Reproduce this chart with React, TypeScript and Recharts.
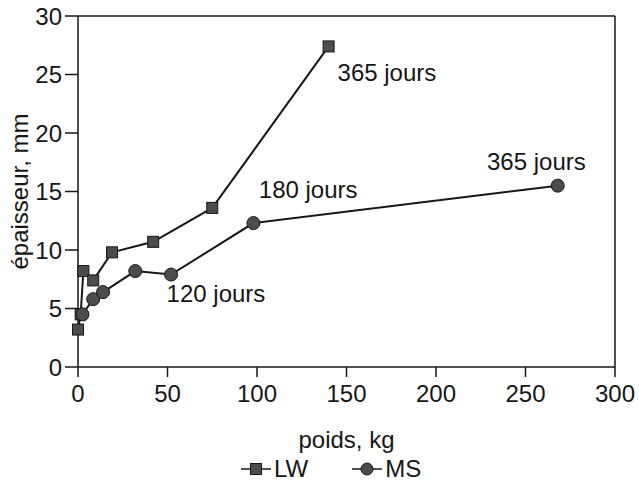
import {
  ScatterChart,
  Scatter,
  XAxis,
  YAxis,
  ZAxis,
  ReferenceLine,
  ReferenceDot
} from "recharts";

// LW series (carrés)
const lwPoids = [0, 1.5, 3, 8.5, 19, 42, 75, 140];
const lwEpaisseur = [3.2, 4.5, 8.2, 7.4, 9.8, 10.7, 13.6, 27.4];

// MS series (ronds)
const msPoids = [2.5, 8.5, 14, 32, 52, 98, 268];
const msEpaisseur = [4.5, 5.8, 6.4, 8.2, 7.9, 12.3, 15.5];

const xTicks = [0, 50, 100, 150, 200, 250, 300];
const yTicks = [0, 5, 10, 15, 20, 25, 30];

// annotations
const annotTexts = ["365 jours", "180 jours", "365 jours", "120 jours"];
const annotPoids = [145, 101, 228.5, 49.5];
const annotEpaisseur = [25.2, 15.2, 17.6, 6.3];

const seriesNames = ["LW", "MS"];

const lwData = lwPoids.map((x, i) => ({ x, y: lwEpaisseur[i] }));
const msData = msPoids.map((x, i) => ({ x, y: msEpaisseur[i] }));

const ink = "#161616";
const markFill = "#4c4c4c";
const font = "'Liberation Sans', Arial, Helvetica, sans-serif";

const SquareMark = (props: any) => {
  const { cx, cy } = props;
  if (cx == null || cy == null) return null;
  return <rect x={cx - 5.5} y={cy - 5.5} width={11} height={11} fill={markFill} stroke={ink} strokeWidth={1} />;
};

const CircleMark = (props: any) => {
  const { cx, cy } = props;
  if (cx == null || cy == null) return null;
  return <circle cx={cx} cy={cy} r={6.5} fill={markFill} stroke={ink} strokeWidth={1} />;
};

function LegendItem({ name, circle }: { name: string; circle?: boolean }) {
  return (
    <span style={{ display: "inline-flex", alignItems: "center", marginRight: 44 }}>
      <svg width={30} height={14} style={{ marginRight: 3 }}>
        <line x1={0} y1={7} x2={30} y2={7} stroke={ink} strokeWidth={1.5} />
        {circle ? (
          <circle cx={15} cy={7} r={6} fill={markFill} stroke={ink} />
        ) : (
          <rect x={9.5} y={1.5} width={11} height={11} fill={markFill} stroke={ink} />
        )}
      </svg>
      {name}
    </span>
  );
}

export default function App() {
  return (
    <div style={{ position: "relative", width: 639, height: 483, fontFamily: font, background: "#fff" }}>
      <style>{"body{margin:0}"}</style>
      <ScatterChart width={639} height={483} margin={{ top: 16, right: 24, bottom: 0, left: 0 }}>
        <XAxis
          type="number"
          dataKey="x"
          domain={[0, 300]}
          ticks={xTicks}
          height={116}
          tickSize={10}
          tickMargin={8}
          tick={{ fontSize: 24, fill: ink, fontFamily: font }}
          axisLine={{ stroke: ink, strokeWidth: 1.5 }}
          tickLine={{ stroke: ink, strokeWidth: 1.5 }}
          label={{ value: "poids, kg", position: "insideBottom", offset: 35, fontSize: 24, fill: ink, fontFamily: font }}
        />
        <YAxis
          type="number"
          dataKey="y"
          domain={[0, 30]}
          ticks={yTicks}
          width={78}
          tickSize={13}
          tickMargin={3}
          tick={{ fontSize: 24, fill: ink, fontFamily: font }}
          axisLine={{ stroke: ink, strokeWidth: 1.5 }}
          tickLine={{ stroke: ink, strokeWidth: 1.5 }}
          label={{
            value: "épaisseur, mm",
            angle: -90,
            position: "insideLeft",
            offset: 19,
            fontSize: 24,
            fill: ink,
            fontFamily: font,
            style: { textAnchor: "middle" }
          }}
        />
        <ZAxis range={[120, 120]} />
        <ReferenceLine y={30} stroke={ink} strokeWidth={1.5} />
        <ReferenceLine x={300} stroke={ink} strokeWidth={1.5} />
        <Scatter
          name={seriesNames[0]}
          data={lwData}
          line={{ stroke: ink, strokeWidth: 2 }}
          shape={SquareMark}
          isAnimationActive={false}
        />
        <Scatter
          name={seriesNames[1]}
          data={msData}
          line={{ stroke: ink, strokeWidth: 2 }}
          shape={CircleMark}
          isAnimationActive={false}
        />
        {annotTexts.map((t, i) => (
          <ReferenceDot
            key={i}
            x={annotPoids[i]}
            y={annotEpaisseur[i]}
            r={0}
            fill="none"
            stroke="none"
            ifOverflow="visible"
            label={{ value: t, position: "right", offset: 0, fontSize: 24, fill: ink, fontFamily: font }}
          />
        ))}
      </ScatterChart>
      <div
        style={{
          position: "absolute",
          top: 455,
          left: 241,
          fontSize: 24,
          color: ink,
          display: "flex",
          alignItems: "center",
          lineHeight: "28px"
        }}
      >
        <LegendItem name={seriesNames[0]} />
        <LegendItem name={seriesNames[1]} circle />
      </div>
    </div>
  );
}
